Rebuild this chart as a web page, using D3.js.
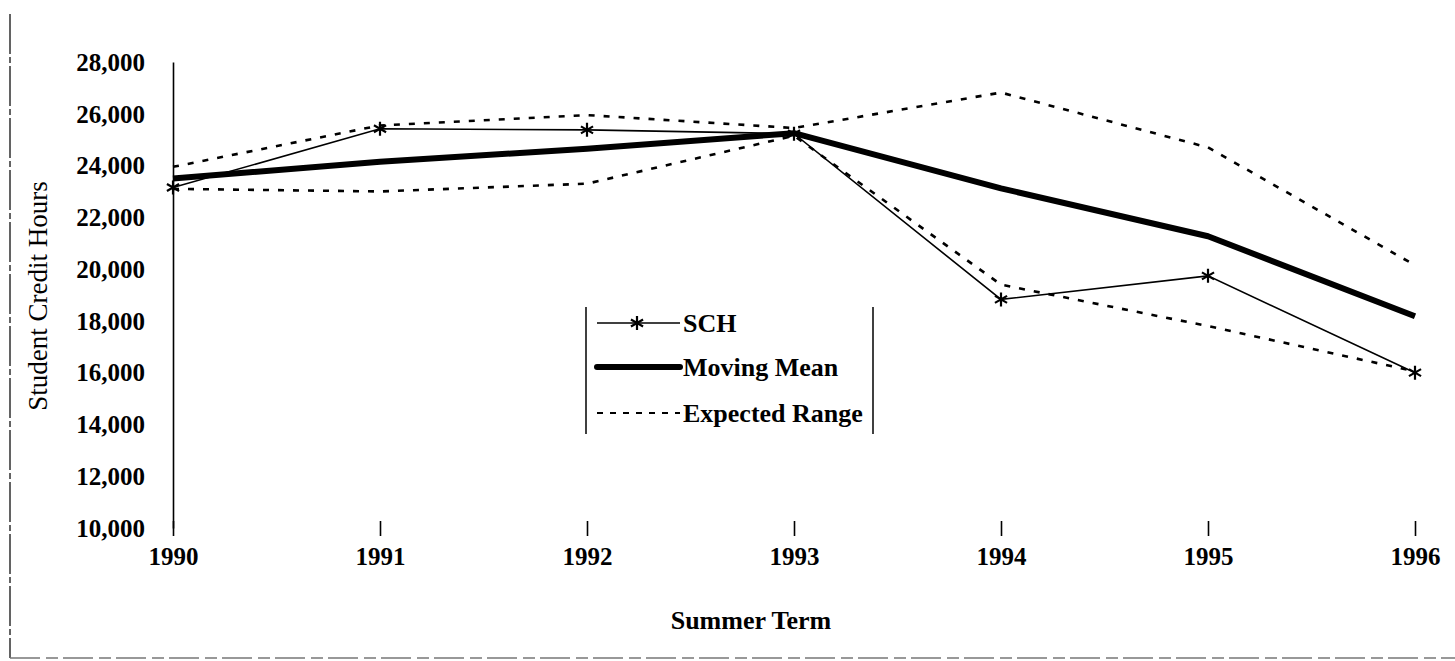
<!DOCTYPE html>
<html>
<head>
<meta charset="utf-8">
<script src="https://cdn.jsdelivr.net/npm/d3@7"></script>
<style>
body { margin: 0; background: #fff; }
svg { display: block; }
text { font-family: "Liberation Serif", "Times New Roman", serif; fill: #000; }
</style>
</head>
<body>
<div id="chart"></div>
<script>
// data
var years = [1990, 1991, 1992, 1993, 1994, 1995, 1996];
var sch = [23150, 25420, 25380, 25230, 18830, 19740, 16000];
var movingMean = [23500, 24150, 24650, 25250, 23120, 21270, 18180];
var upperRange = [23950, 25550, 25950, 25450, 26820, 24700, 20150];
var lowerRange = [23100, 23000, 23300, 25150, 19400, 17800, 16050];
var yTicks = [10000, 12000, 14000, 16000, 18000, 20000, 22000, 24000, 26000, 28000];
var legendLabels = ["SCH", "Moving Mean", "Expected Range"];

function paint_chart(){

	var svg = d3.select("#chart").append("svg")
		.attr("width", 1455)
		.attr("height", 661);

	var x = d3.scalePoint().domain(years).range([173, 1415]);
	var y = d3.scaleLinear().domain([10000, 28000]).range([528, 62]);

	// scan frame remnants
	svg.append("line")
		.attr("x1", 10).attr("x2", 10).attr("y1", 14).attr("y2", 658)
		.attr("stroke", "#222").attr("stroke-width", 1.4)
		.attr("stroke-dasharray", "40,3,6,3");
	svg.append("line")
		.attr("x1", 10).attr("x2", 1455).attr("y1", 658).attr("y2", 658)
		.attr("stroke", "#777").attr("stroke-width", 1.5)
		.attr("stroke-dasharray", "30,6,12,5");

	var yAxis = d3.axisLeft(y).tickValues(yTicks).tickSize(0).tickPadding(28)
		.tickFormat(d3.format(","));
	var gy = svg.append("g")
		.attr("transform", "translate(173,0)")
		.call(yAxis);
	gy.select(".domain").attr("stroke", "#000").attr("stroke-width", 1.6);
	gy.selectAll("text")
		.style("font-size", "25px").style("font-weight", "bold")
		.attr("dy", "0.33em");

	var xAxis = d3.axisBottom(x).tickSize(15).tickPadding(26);
	var gx = svg.append("g")
		.attr("transform", "translate(0,521)")
		.call(xAxis);
	gx.select(".domain").remove();
	gx.selectAll("line").attr("stroke", "#000").attr("stroke-width", 1.6);
	gx.selectAll("text")
		.style("font-size", "25px").style("font-weight", "bold")
		.attr("dy", "0.1em");

	svg.append("text")
		.attr("transform", "translate(47,296) rotate(-90)")
		.style("text-anchor", "middle")
		.style("font-size", "27px")
		.text("Student Credit Hours");

	svg.append("text")
		.attr("x", 751).attr("y", 629)
		.style("text-anchor", "middle")
		.style("font-size", "26px").style("font-weight", "bold")
		.text("Summer Term");

	var line = d3.line()
		.x(function(d, i) { return x(years[i]); })
		.y(function(d) { return y(d); });

	[upperRange, lowerRange].forEach(function(r) {
		svg.append("path")
			.datum(r)
			.attr("d", line)
			.attr("fill", "none")
			.attr("stroke", "#000")
			.attr("stroke-width", 2.6)
			.attr("stroke-dasharray", "6,9");
	});

	svg.append("path")
		.datum(movingMean)
		.attr("d", line)
		.attr("fill", "none")
		.attr("stroke", "#000")
		.attr("stroke-width", 6)
		.attr("stroke-linejoin", "round");

	svg.append("path")
		.datum(sch)
		.attr("d", line)
		.attr("fill", "none")
		.attr("stroke", "#000")
		.attr("stroke-width", 1.6);

	svg.selectAll(".star")
		.data(sch)
		.enter().append("path")
		.attr("class", "star")
		.attr("transform", function(d, i) { return "translate(" + x(years[i]) + "," + y(d) + ")"; })
		.attr("d", starPath(7))
		.attr("stroke", "#000")
		.attr("stroke-width", 2.2);

	// legend
	var lg = svg.append("g");
	[586, 873].forEach(function(lx) {
		lg.append("line")
			.attr("x1", lx).attr("x2", lx).attr("y1", 307).attr("y2", 434)
			.attr("stroke", "#000").attr("stroke-width", 1.5);
	});
	var rowY = [323, 367, 413];
	legendLabels.forEach(function(lbl, i) {
		var ln = lg.append("line")
			.attr("x1", 597).attr("x2", 680).attr("y1", rowY[i]).attr("y2", rowY[i])
			.attr("stroke", "#000");
		if (i == 0) ln.attr("stroke-width", 1.6);
		if (i == 1) ln.attr("stroke-width", 6).attr("stroke-linecap", "round");
		if (i == 2) ln.attr("stroke-width", 2.2).attr("stroke-dasharray", "6,7");
		if (i == 0) {
			lg.append("path")
				.attr("transform", "translate(637," + rowY[i] + ")")
				.attr("d", starPath(7))
				.attr("stroke", "#000").attr("stroke-width", 2.2);
		}
		lg.append("text")
			.attr("x", 683).attr("y", rowY[i]).attr("dy", "0.35em")
			.style("font-size", "26px").style("font-weight", "bold")
			.text(lbl);
	});
}

function starPath(r) {
	var a = r * Math.cos(Math.PI / 6), b = r * Math.sin(Math.PI / 6);
	return "M0," + (-r) + "L0," + r +
		"M" + (-a) + "," + (-b) + "L" + a + "," + b +
		"M" + (-a) + "," + b + "L" + a + "," + (-b);
}

paint_chart();
</script>
</body>
</html>
